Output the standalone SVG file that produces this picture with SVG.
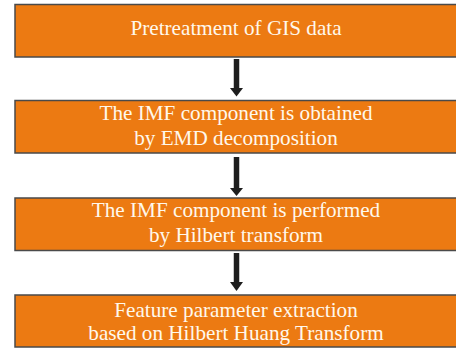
<svg xmlns="http://www.w3.org/2000/svg" width="456" height="351" viewBox="0 0 456 351">
<style>
.box{fill:#EC7A12;stroke:#4a4a4a;stroke-width:1.5}
.t{font-family:"Liberation Serif","Times New Roman",serif;font-size:21.2px;fill:#FFF8EC;text-anchor:middle}
.shaft{stroke:#1e1e1e;stroke-width:5.5}
.head{fill:#1e1e1e}
</style>
<rect width="456" height="351" fill="#ffffff"/>
<g id="n1"><rect class="box" x="15" y="4.5" width="445" height="52.5"/><text class="t" x="236" y="34.5">Pretreatment of GIS data</text></g>
<g id="n2"><rect class="box" x="15" y="100.5" width="445" height="52.5"/><text class="t" x="236" y="120">The IMF component is obtained</text><text class="t" x="236" y="145">by EMD decomposition</text></g>
<g id="n3"><rect class="box" x="15" y="198" width="445" height="52.5"/><text class="t" x="236" y="217">The IMF component is performed</text><text class="t" x="236" y="241.5">by Hilbert transform</text></g>
<g id="n4"><rect class="box" x="15" y="295" width="445" height="52"/><text class="t" x="236" y="316.5">Feature parameter extraction</text><text class="t" x="236" y="340">based on Hilbert Huang Transform</text></g>
<g id="connectors">
<line class="shaft" x1="236.5" y1="59" x2="236.5" y2="89"/><polygon class="head" points="230,88 243,88 236.5,96.5"/>
<line class="shaft" x1="236.5" y1="157" x2="236.5" y2="189"/><polygon class="head" points="230,188 243,188 236.5,196"/>
<line class="shaft" x1="236.5" y1="253" x2="236.5" y2="283"/><polygon class="head" points="230,282 243,282 236.5,291"/>
</g>
</svg>
